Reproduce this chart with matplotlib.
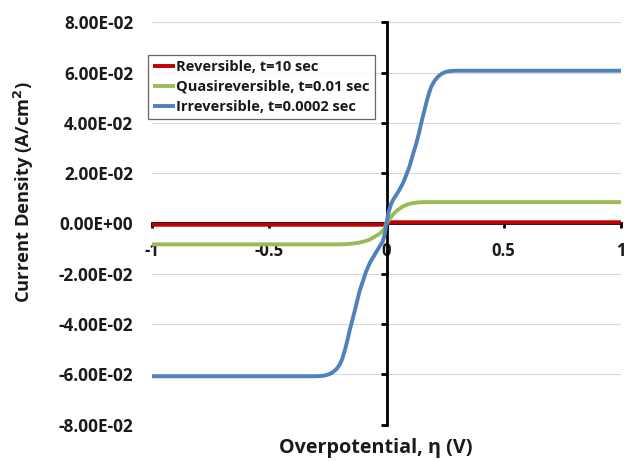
import matplotlib
matplotlib.use("Agg")
import matplotlib.pyplot as plt

# Overpotential (V) and current density (A/cm^2) for each regime
rev_x = [-1.0, -0.02, 0.02, 1.0]
rev_y = [-0.0005, -0.0005, 0.0005, 0.0005]

quasi_x = [-1.0, -0.20, -0.17, -0.145, -0.115, -0.09, -0.072, -0.055, -0.037,
           -0.022, -0.009, 0.0, 0.01, 0.027, 0.045, 0.07, 0.09, 0.112, 0.135,
           0.155, 0.22, 1.0]
quasi_y = [-0.0083, -0.0083, -0.0082, -0.0080, -0.0076, -0.0070, -0.0064, -0.0055,
           -0.0045, -0.0035, -0.0022, 0.0, 0.0014, 0.0035, 0.0052, 0.0068, 0.0076,
           0.0081, 0.0084, 0.0085, 0.0085, 0.0085]

irr_x = [-1.0, -0.30, -0.28, -0.264, -0.245, -0.229, -0.214, -0.200, -0.189,
         -0.179, -0.168, -0.158, -0.147, -0.136, -0.125, -0.115, -0.100, -0.087,
         -0.070, -0.051, -0.035, -0.016, -0.007, 0.0, 0.005, 0.012, 0.02, 0.03,
         0.042, 0.055, 0.07, 0.085, 0.098, 0.112, 0.127, 0.138, 0.148, 0.159,
         0.169, 0.180, 0.191, 0.205, 0.219, 0.237, 0.255, 0.275, 0.297, 1.0]
irr_y = [-0.0608, -0.0608, -0.0607, -0.0605, -0.0600, -0.0592, -0.0580, -0.0562,
         -0.0540, -0.0509, -0.0470, -0.0429, -0.0389, -0.0350, -0.0308, -0.0270,
         -0.0228, -0.0191, -0.0155, -0.0125, -0.0100, -0.0072, -0.0040, 0.0,
         0.0028, 0.0055, 0.0078, 0.0097, 0.0114, 0.0134, 0.0160, 0.0195, 0.0227,
         0.0272, 0.0319, 0.0358, 0.0399, 0.0440, 0.0478, 0.0515, 0.0545, 0.0568,
         0.0584, 0.0597, 0.0604, 0.0607, 0.0608, 0.0608]

series_labels = ["Reversible, t=10 sec",
                 "Quasireversible, t=0.01 sec",
                 "Irreversible, t=0.0002 sec"]
series_colors = ["#C00000", "#9BBB59", "#4F81BD"]

x_ticks = [-1, -0.5, 0, 0.5, 1]
x_tick_labels = ["-1", "-0.5", "0", "0.5", "1"]
y_ticks = [-0.08, -0.06, -0.04, -0.02, 0.0, 0.02, 0.04, 0.06, 0.08]
y_tick_labels = [f"{v:.2E}" for v in y_ticks]

FAMILY = ["Open Sans", "DejaVu Sans"]
plt.rcParams["font.family"] = FAMILY
plt.rcParams["font.weight"] = "bold"
TXT = "#1a1a1a"

fig = plt.figure(figsize=(6.33, 4.61), dpi=100)
W, H = 633, 461
left, right, top, bottom = 152, 621, 22.5, 424.5
rect = [left / W, 1 - bottom / H, (right - left) / W, (bottom - top) / H]

# axes carrying the y tick labels along the left edge of the plot area
axl = fig.add_axes(rect)
axl.set_ylim(-0.08, 0.08)
axl.set_yticks(y_ticks, y_tick_labels)
axl.tick_params(axis="y", length=0, pad=13.5, labelsize=12.3, labelcolor=TXT)
for lbl in axl.get_yticklabels():
    lbl.set_fontweight("bold")
axl.set_xticks([])
for s in axl.spines.values():
    s.set_visible(False)
axl.patch.set_visible(False)

ax = fig.add_axes(rect, sharey=axl)
ax.patch.set_visible(False)

lw = 2.8
for xs, ys, lab, col in zip([rev_x, quasi_x, irr_x], [rev_y, quasi_y, irr_y],
                            series_labels, series_colors):
    ax.plot(xs, ys, color=col, lw=lw, label=lab, zorder=3,
            solid_joinstyle="round", solid_capstyle="butt")

ax.set_xlim(-1, 1)
ax.set_ylim(-0.08, 0.08)

ax.yaxis.grid(True, color="#D9D9D9", lw=0.8)
ax.set_axisbelow(True)
ax.spines["right"].set_visible(False)
ax.spines["top"].set_visible(False)

# axes cross at the origin
ax.spines["left"].set_position(("data", 0))
ax.spines["left"].set_linewidth(2.0)
ax.spines["bottom"].set_position(("data", 0))
ax.spines["bottom"].set_linewidth(2.0)
ax.tick_params(axis="y", direction="out", length=4, width=2.0, labelleft=False)

ax.set_xticks(x_ticks, x_tick_labels)
ax.tick_params(axis="x", direction="out", length=3.5, width=2.0, pad=9.5,
               labelsize=12, labelcolor=TXT)
for lbl in ax.get_xticklabels():
    lbl.set_fontweight("bold")

leg = ax.legend(loc="upper left", bbox_to_anchor=(-0.0085, 0.919),
                frameon=True, fancybox=False,
                prop={"family": FAMILY, "weight": "bold", "size": 10.5},
                handlelength=1.5, handletextpad=0.1, borderpad=0.35,
                labelspacing=0.4, borderaxespad=0.0)
leg.get_frame().set_edgecolor("#404040")
leg.get_frame().set_linewidth(0.9)
leg.set_zorder(5)
for t in leg.get_texts():
    t.set_color(TXT)

fig.text(24 / W, 1 - 192 / H, "Current Density (A/cm$^\\mathbf{2}$)", rotation=90,
         ha="center", va="center", fontsize=13.2, color=TXT, fontweight="bold")
fig.text(375.5 / W, 1 - 448 / H, "Overpotential, \u03b7 (V)", ha="center",
         va="center", fontsize=14.2, color=TXT, fontweight="bold")

fig.savefig("out.png", dpi=100, facecolor="white")
